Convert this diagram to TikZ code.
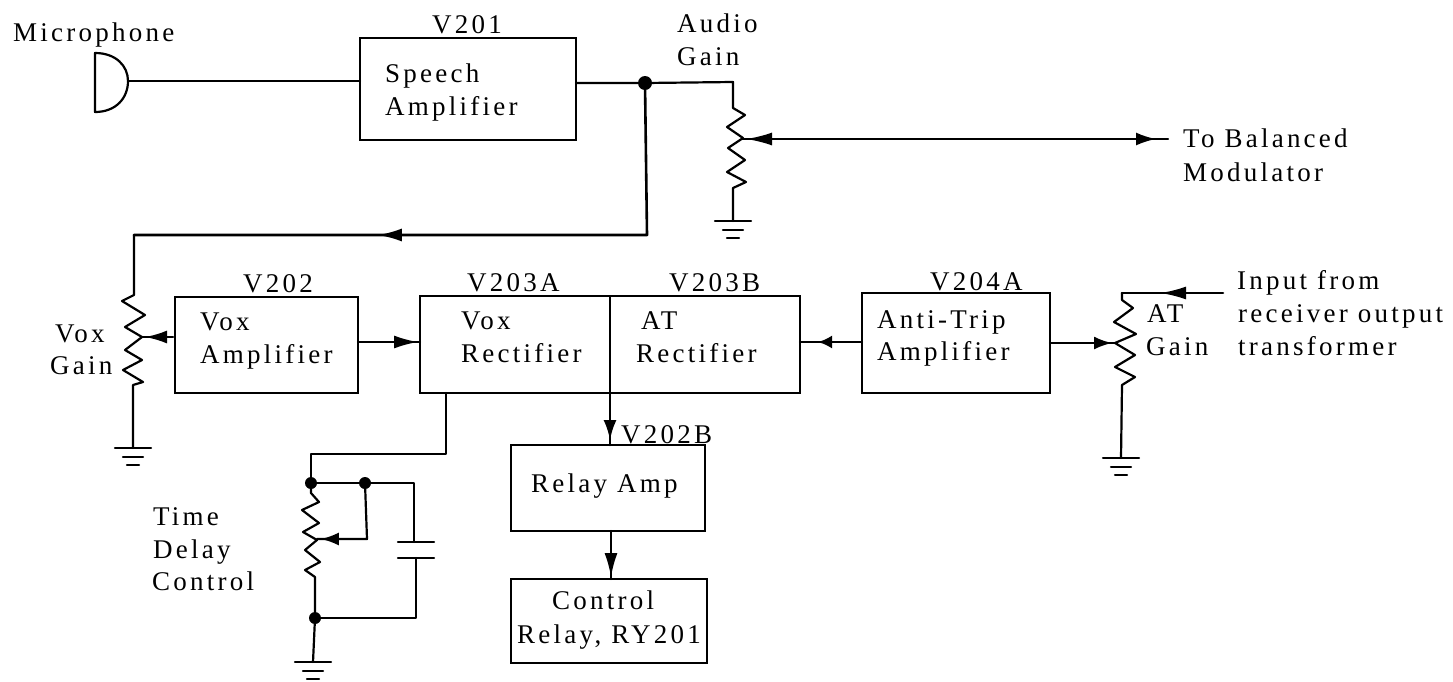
\documentclass[tikz,border=0pt]{standalone}
\usepackage{fontspec}
\setmainfont[LetterSpace=12]{Liberation Serif}
\usetikzlibrary{arrows.meta,decorations.markings}
\tikzset{
  x=1pt,y=-1pt,
  wire/.style={line width=2.2pt,line cap=round,line join=round},
  blockbox/.style={draw,line width=2.4pt,inner sep=0pt,outer sep=0pt,rectangle},
  lbl/.style={anchor=base west,inner sep=0pt,font=\fontsize{27}{30}\selectfont,text=black},
  dot/.style={circle,fill=black,inner sep=0pt,minimum size=12pt},
  arrowat/.style n args={2}{postaction={decorate,decoration={markings,mark=at position #1 with {\arrow{Latex[length=#2,width=13pt]}}}}},
  revat/.style n args={2}{postaction={decorate,decoration={markings,mark=at position #1 with {\arrowreversed{Latex[length=#2,width=13pt]}}}}},
  gnd/.pic={\draw[wire] (-18,0) -- (18,0) (-10,9) -- (10,9) (-6,17) -- (6,17);}
}
\begin{document}
\begin{tikzpicture}
\useasboundingbox[fill=white] (0,0) rectangle (1453,681);
% blocks
\node[blockbox,minimum width=216pt,minimum height=102pt] (v201) at (468,89) {};
\node[blockbox,minimum width=183pt,minimum height=96pt] (v202) at (266.5,345) {};
\node[blockbox,minimum width=190pt,minimum height=97pt] (v203a) at (515,344.5) {};
\node[blockbox,minimum width=190pt,minimum height=97pt] (v203b) at (705,344.5) {};
\node[blockbox,minimum width=188pt,minimum height=100pt] (v204) at (956,343) {};
\node[blockbox,minimum width=194pt,minimum height=86pt] (relay) at (608,488) {};
\node[blockbox,minimum width=196pt,minimum height=84pt] (ctrl) at (609,621) {};
% labels
\node[lbl] (tmic) at (13,41) {Microphone};
\node[lbl] (t201) at (432,33) {V201};
\node[lbl] (t1a) at (385,82) {Speech};
\node[lbl] (t1b) at (385,115) {Amplifier};
\node[lbl] (t2a) at (677,32) {Audio};
\node[lbl] (t2b) at (677,65) {Gain};
\node[lbl] (t3a) at (1183,147) {To Balanced};
\node[lbl] (t3b) at (1183,181) {Modulator};
\node[lbl] (t202) at (243,292) {V202};
\node[lbl] (t203a) at (467,291) {V203A};
\node[lbl] (t203b) at (669,291) {V203B};
\node[lbl] (t204) at (930,290) {V204A};
\node[lbl] (t4a) at (200,330) {Vox};
\node[lbl] (t4b) at (200,363) {Amplifier};
\node[lbl] (t5a) at (461,329) {Vox};
\node[lbl] (t5b) at (461,362) {Rectifier};
\node[lbl] (t6a) at (641,329) {AT};
\node[lbl] (t6b) at (636,362) {Rectifier};
\node[lbl] (t7a) at (877,328) {Anti-Trip};
\node[lbl] (t7b) at (877,360) {Amplifier};
\node[lbl] (t8a) at (55,342) {Vox};
\node[lbl] (t8b) at (50,374) {Gain};
\node[lbl] (t9a) at (1147,322) {AT};
\node[lbl] (t9b) at (1146,355) {Gain};
\node[lbl] (t10a) at (1237,289) {Input from};
\node[lbl] (t10b) at (1238,322) {receiver output};
\node[lbl] (t10c) at (1238,355) {transformer};
\node[lbl] (t11) at (621,443) {V202B};
\node[lbl] (t12) at (531,492) {Relay Amp};
\node[lbl] (t13a) at (552,609) {Control};
\node[lbl] (t13b) at (517,643) {Relay, RY201};
\node[lbl] (t14a) at (153,525) {Time};
\node[lbl] (t14b) at (153,558) {Delay};
\node[lbl] (t14c) at (152,590) {Control};
% microphone
\coordinate (micb) at (128,81);
\draw[wire] (95,53) .. controls (116,53) and (128,66) .. (micb) .. controls (128,98) and (116,112) .. (95,112) -- cycle;
\draw[wire] (micb) -- (v201.west |- micb);
% audio path
\node[dot,minimum size=14pt] (j1) at (645,83) {};
\coordinate (r1t) at (733,82);
\coordinate (r1w) at (742,139);
\coordinate (out) at (1168,139);
\coordinate (r1g) at (733,221);
\draw[wire] (v201.east |- j1) -- (j1) -- (r1t) -- (733,108) -- (745,115) -- (727,127) -- (743,138) -- (728,148) -- (745,160) -- (727,172) -- (746,182) -- (733,188) -- (r1g);
\path (r1g) pic {gnd};
\draw[wire,arrowat={414pt}{20pt},revat={4pt}{26pt}] (r1w) -- (out);
% vox feed
\coordinate (c1) at (647,235);
\coordinate (c2) at (134,235);
\coordinate (r2g) at (133,448);
\coordinate (r2w) at (142,337);
\draw[wire,line width=2.6pt,arrowat={414pt}{24pt}] (j1) -- (c1) -- (c2);
\draw[wire] (c2) -- (134,295) -- (122,301) -- (145,315) -- (125,327) -- (142,337) -- (125,350) -- (142,360) -- (123,370) -- (143,382) -- (133,385) -- (r2g);
\path (r2g) pic {gnd};
\coordinate (v202w) at (173,337);
\draw[wire,arrowat={28pt}{22pt}] (v202w) -- (r2w);
% block links
\coordinate (a1) at (358,342);
\coordinate (a2) at (420,342);
\coordinate (a3) at (800,342);
\coordinate (a4) at (862,342);
\draw[wire,arrowat={60pt}{24pt}] (a1) -- (a2);
\draw[wire,arrowat={44pt}{14pt}] (a4) -- (a3);
\coordinate (r3w) at (1115,343);
\coordinate (v204e) at (1050,343);
\draw[wire,arrowat={62pt}{18pt}] (v204e) -- (r3w);
\coordinate (r3t) at (1122,293);
\coordinate (in) at (1223,293);
\coordinate (r3g) at (1121,458);
\draw[wire,line width=2.6pt,arrowat={63pt}{26pt}] (in) -- (r3t);
\draw[wire] (r3t) -- (1122,300) -- (1133,308) -- (1114,322) -- (1136,334) -- (1115,343) -- (1135,355) -- (1115,367) -- (1135,377) -- (1122,385) -- (r3g);
\path (r3g) pic {gnd};
\coordinate (m1) at (610,393);
\coordinate (m2) at (610,445);
\draw[wire,line width=2.6pt,arrowat={47pt}{20pt}] (m1) -- (m2);
\coordinate (m3) at (611,531);
\coordinate (m4) at (611,579);
\draw[wire,arrowat={46pt}{24pt}] (m3) -- (m4);
% time delay
\coordinate (d1) at (446,393);
\coordinate (d2) at (446,454);
\coordinate (d3) at (311,454);
\node[dot] (j2) at (311,483) {};
\node[dot] (j3) at (365,483) {};
\node[dot] (j4) at (315,618) {};
\coordinate (cap1) at (414,542);
\coordinate (cap2) at (416,558);
\coordinate (r4w) at (317,539);
\coordinate (r4k) at (367,539);
\coordinate (g4) at (313,662);
\draw[wire] (d1) -- (d2) -- (d3) -- (j2) -- (j3) -- (414,483) -- (cap1);
\draw[wire] (398,542) -- (434,542) (398,558) -- (434,558);
\draw[wire] (cap2) -- (416,618) -- (j4);
\draw[wire] (j2) -- (311,493) -- (319,502) -- (302,510) -- (319,523) -- (303,532) -- (317,540) -- (305,550) -- (320,562) -- (305,570) -- (315,577) -- (j4) -- (g4);
\path (g4) pic {gnd};
\draw[wire,arrowat={96pt}{18pt}] (j3) -- (r4k) -- (r4w);
\end{tikzpicture}
\end{document}
